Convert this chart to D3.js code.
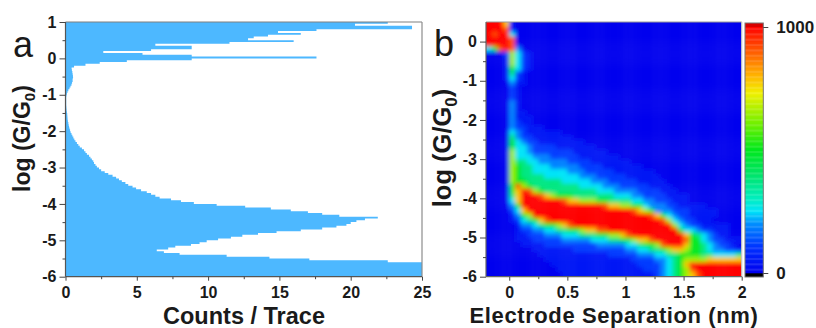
<!DOCTYPE html>
<meta charset="utf-8">
<style>
body { margin: 0; background: #fff; font-family: "Liberation Sans", Arial, sans-serif; }
svg { display: block; }
.tick text { font: bold 16px "Liberation Sans", Arial, sans-serif; fill: #1a1a1a; }
.axis path { display: none; }
.axis line { stroke: #444; stroke-width: 1; }
.title { font-weight: bold; fill: #1a1a1a; }
.letter { font-size: 36px; fill: #1a1a1a; }
</style>
<body>
<div id="chart"></div>
<script src="https://d3js.org/d3.v7.min.js"></script>
<script>
// panel a: counts per bin, bins are 0.05 wide going down from log G = 1
var binStart = 1, binWidth = 0.05;
var counts = [
  22.6,20.3,24.3,24.3,17.6,14.9,16.5,14.2,13.2,12.8,
  16,11.5,6.3,8.85,8.85,6,2.65,5.4,8.85,17.6,
  8.85,4.3,2.4,1.4,0.6,0.43,0.45,0.48,0.5,0.52,
  0.53,0.5,0.5,0.46,0.42,0.35,0.28,0.2,0.14,0.1,
  0.07,0.05,0.05,0.05,0.05,0.05,0.06,0.07,0.08,0.1,
  0.12,0.13,0.14,0.15,0.17,0.2,0.22,0.25,0.28,0.32,
  0.36,0.42,0.48,0.55,0.62,0.7,0.8,0.9,1,1.15,
  1.3,1.4,1.5,1.65,1.75,1.85,1.95,2,2.1,2.2,
  2.35,2.5,2.75,3,3.3,3.55,3.75,3.95,4.2,4.4,
  4.7,4.95,5.3,5.7,6,6.3,6.6,7.4,8.1,9,
  10.6,12.6,14.4,15.8,17,18,19.2,21.9,21,20.4,
  20,19.7,19,18,16.5,14.8,13.5,12.4,11.6,10.7,
  9.9,9.4,8.8,7.7,7.2,6.4,6.9,8,11.3,14.3,
  17.1,22.6,25,25,25,25,25,25,25,25
];

// panel b: one string per row from log G = 0.5 down, one character per 0.05 nm
// from -0.2 nm, each character is a level in levelValues (a = top), missing = 0
var levelValues = [0, 40, 110, 185, 250, 370, 500, 650, 780, 920, 1000];
var heatRows = [
  "aaa81",
  "aaa91",
  "a9aa4",
  "aaaa9",
  "aaaa9",
  "469a93",
  "00027421",
  "00017421",
  "00017421",
  "00016421",
  "0001521",
  "0001421",
  "0000311",
  "000021",
  "000021",
  "000021",
  "000031",
  "000031",
  "0000311",
  "00003111",
  "00003211",
  "0000322111",
  "0000432111111",
  "000053221111111",
  "00006432211111111",
  "0000644322221111111",
  "000074432222222111111",
  "00007444333222221111111",
  "0000755443333322221111111",
  "000076554443333322221111111",
  "00007655444444333222221111111",
  "000076555544444433322222111111",
  "0000766555555444443332222211111",
  "00006976555555554444333222221111",
  "000068a97655555555544433332222111",
  "000058aaa98766655555554443322221111",
  "000048aaaaaaa9887776655554433222111",
  "000036aaaaaaaaaaaaaa988776643332211111",
  "0000248aaaaaaaaaaaaaaaaaa987633322211111",
  "00001367aaaaaaaaaaaaaaaaaaaa986432211111",
  "00001245689aaaaaaaaaaaaaaaaaaa974322111",
  "000001334566789aaaaaaaaaaaaaaaaa7432211111",
  "000001223344556678899aaaaaaaaaaaa644322111",
  "0000011222333444555667789aaaaaaaaa86543211",
  "00000111222223333344455667889aaaaa9664322111",
  "000000111122222222233333445667 9aaa866543221".replace(" ", ""),
  "00000000111111122222222233445567887665433221",
  "00000000011111111111122222333445566665544445",
  "00000000001111111111111112222334567777888888",
  "00000000000111111111111111222234568aaaaaaaaa",
  "000000000000111111111111111222345679aaaaaaaa",
  "0000000000000111111111111111123456789aaaaaaa"
];

var tickA = [0, 5, 10, 15, 20, 25];
var minorA = [2.5, 7.5, 12.5, 17.5, 22.5];
var logTicksA = [1, 0, -1, -2, -3, -4, -5, -6];
var logMinorA = [0.5, -0.5, -1.5, -2.5, -3.5, -4.5, -5.5];
var tickB = [0, 0.5, 1, 1.5, 2];
var minorB = [0.25, 0.75, 1.25, 1.75];
var logTicksB = [0, -1, -2, -3, -4, -5, -6];
var logMinorB = [-0.5, -1.5, -2.5, -3.5, -4.5, -5.5];
var barTicks = [0, 1000];
var barStops = [0, 100, 200, 250, 300, 400, 500, 600, 730, 800, 900, 1000];
var barColors = ["#0000ee", "#0030ff", "#0090ff", "#00e4f8", "#00eec0", "#00e468", "#00e81c",
  "#6cf000", "#f0f000", "#ffb400", "#ff5a00", "#ff0000"];

var width = 816, height = 328;
var svg = d3.select("#chart").append("svg").attr("width", width).attr("height", height);
var defs = svg.append("defs");

defs.append("filter").attr("id", "soft").attr("x", "-5%").attr("y", "-5%").attr("width", "110%").attr("height", "110%")
  .append("feGaussianBlur").attr("stdDeviation", 2.2);
defs.append("filter").attr("id", "softer")
  .append("feGaussianBlur").attr("stdDeviation", 0.4);
defs.append("clipPath").attr("id", "clipA").append("rect")
  .attr("x", 65.5).attr("y", 22).attr("width", 356.5).attr("height", 254.7);
defs.append("clipPath").attr("id", "clipB").append("rect")
  .attr("x", 486).attr("y", 22).attr("width", 255.7).attr("height", 254.7);

function addAxes(x, y, xMajor, xMinor, yMajor, yMinor, fmt) {
  var xBase = y.range()[0], yBase = x.range()[0];
  svg.append("g").attr("class", "axis").attr("transform", `translate(0,${xBase})`)
    .call(d3.axisBottom(x).tickValues(xMajor).tickSize(4).tickPadding(6).tickFormat(fmt));
  svg.append("g").attr("class", "axis").attr("transform", `translate(0,${xBase})`)
    .call(d3.axisBottom(x).tickValues(xMinor).tickSize(2.5).tickFormat(""));
  svg.append("g").attr("class", "axis").attr("transform", `translate(${yBase},0)`)
    .call(d3.axisLeft(y).tickValues(yMajor).tickSize(6).tickPadding(3).tickFormat(d3.format("d")));
  svg.append("g").attr("class", "axis").attr("transform", `translate(${yBase},0)`)
    .call(d3.axisLeft(y).tickValues(yMinor).tickSize(3).tickFormat(""));
  svg.selectAll(".tick text").filter(function() { return this.textContent.startsWith("\u2212"); })
    .text(function() { return this.textContent.replace("\u2212", "-"); });
}

// frame: grey on top and right, darker on the axis sides
function addFrame(x0, x1, y0, y1, topColor, rightColor, axisColor) {
  var lines = [[x0, y0, x1, y0, topColor], [x1, y0, x1, y1, rightColor], [x0, y0, x0, y1, axisColor], [x0, y1, x1, y1, axisColor]];
  svg.selectAll(null).data(lines).enter().append("line")
    .attr("x1", d => d[0]).attr("y1", d => d[1]).attr("x2", d => d[2]).attr("y2", d => d[3])
    .attr("stroke", d => d[4]).attr("stroke-width", 1.2);
}

function yTitle(baseX, centerY, size) {
  var t = svg.append("text").attr("class", "title").attr("text-anchor", "middle")
    .attr("transform", `translate(${baseX},${centerY}) rotate(-90)`).style("font-size", size + "px");
  t.append("tspan").text("log (G/G");
  t.append("tspan").attr("dy", size * 0.22).style("font-size", (size * 0.66) + "px").text("0");
  t.append("tspan").attr("dy", -size * 0.22).text(")");
}

// ---- panel a
var xA = d3.scaleLinear().domain([0, 25]).range([65.5, 422]);
var yA = d3.scaleLinear().domain([-6, 1]).range([276.7, 22]);

// step outline, the last count is repeated to close the final bin
var histPoints = counts.concat([counts[counts.length - 1]]);
var histArea = d3.area()
  .curve(d3.curveStepBefore)
  .y((d, i) => yA(binStart - binWidth * i))
  .x0(xA(0))
  .x1(d => xA(d));

svg.append("g").attr("clip-path", "url(#clipA)").append("path")
  .attr("filter", "url(#softer)")
  .attr("d", histArea(histPoints))
  .attr("fill", "#4db8ff");

addFrame(65.5, 422, 22, 276.7, "#808080", "#8c8c8c", "#555");
addAxes(xA, yA, tickA, minorA, logTicksA, logMinorA, d3.format("d"));

svg.append("text").attr("class", "title").attr("x", 244).attr("y", 324).attr("text-anchor", "middle")
  .style("font-size", "23.5px").text("Counts / Trace");
yTitle(30, 138.5, 23);
svg.append("text").attr("class", "letter").attr("x", 13).attr("y", 57).text("a");

// ---- panel b
var xB = d3.scaleLinear().domain([-0.2, 2]).range([486, 741.7]);
var yB = d3.scaleLinear().domain([-6, 0.5]).range([276.7, 22]);
var color = d3.scaleLinear().domain(barStops).range(barColors).clamp(true);
var nmStep = 0.05, logStep = 0.125, nCols = 44;

var cells = [];
heatRows.forEach(function(row, k) {
  var full = row.padEnd(nCols, "0");
  d3.range(nCols).forEach(function(j) {
    cells.push({ j: j, k: k, value: levelValues[parseInt(full[j], 11)] });
  });
});

var heat = svg.append("g").attr("clip-path", "url(#clipB)").append("g").attr("filter", "url(#soft)");
// outer cells run past the plot edge so the blur does not fade at the clip
var pad = 8;
heat.selectAll("rect").data(cells).enter().append("rect")
  .attr("x", d => xB(-0.2 + nmStep * d.j) - (d.j == 0 ? pad : 0))
  .attr("y", d => yB(0.5 - logStep * d.k) - (d.k == 0 ? pad : 0))
  .attr("width", d => xB(nmStep) - xB(0) + 0.3 + (d.j == 0 || d.j == nCols - 1 ? pad : 0))
  .attr("height", d => yB(0) - yB(logStep) + 0.3 + (d.k == 0 || d.k == heatRows.length - 1 ? pad : 0))
  .attr("fill", d => color(d.value));

addFrame(486, 741.7, 22, 276.7, "#9a9a9a", "#c4c4c4", "#666");
addAxes(xB, yB, tickB, minorB, logTicksB, logMinorB, d => d);

svg.append("text").attr("class", "title").attr("x", 614).attr("y", 323).attr("text-anchor", "middle")
  .style("font-size", "22px").style("letter-spacing", "0.6px").text("Electrode Separation (nm)");
yTitle(451, 148, 25.5);
svg.append("text").attr("class", "letter").attr("x", 434).attr("y", 56).text("b");

// ---- colour bar
var yBar = d3.scaleLinear().domain([0, 1000]).range([273, 27]);
var barValues = d3.range(0, 1000, 5);
var barX = 745, barW = 18.3;

svg.append("rect").attr("x", barX).attr("y", yBar(0)).attr("width", barW).attr("height", 4).attr("fill", "#000");
svg.append("rect").attr("x", barX).attr("y", 23).attr("width", barW).attr("height", yBar(1000) - 23).attr("fill", "#d80000");
svg.selectAll(null).data(barValues).enter().append("rect")
  .attr("x", barX).attr("width", barW)
  .attr("y", d => yBar(d + 5))
  .attr("height", yBar(0) - yBar(5) + 0.3)
  .attr("fill", d => color(d));
svg.append("rect").attr("x", barX).attr("y", 23).attr("width", barW).attr("height", 254)
  .attr("fill", "none").attr("stroke", "#777").attr("stroke-width", 1);

var barAxis = svg.append("g").attr("class", "axis").attr("transform", `translate(${barX + barW},0)`)
  .call(d3.axisRight(yBar).tickValues(barTicks).tickSize(5).tickPadding(8).tickFormat(d3.format("d")));
barAxis.selectAll("text").style("font-size", "17px");
</script>
</body>
